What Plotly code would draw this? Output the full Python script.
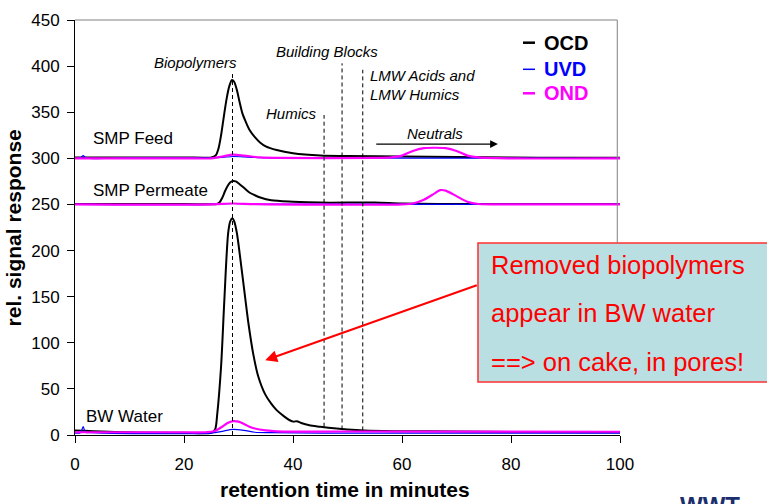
import plotly.graph_objects as go

FONT = "Liberation Sans, Arial, sans-serif"

# ---------------- data ----------------
# SMP Feed (offset baseline ~300)
feed_ocd_x = [0, 10, 20, 25, 25.8, 26.3, 26.8, 27.3, 27.8, 28.3, 28.8, 29.2, 29.7, 30.2, 30.7, 31.3, 32, 33, 34, 35, 37, 40, 45, 50, 60, 70, 80, 90, 100]
feed_ocd_y = [301, 301, 301, 301, 303, 310, 325, 345, 364, 378, 385, 383, 374, 361, 349, 340, 331, 323, 317, 313, 309, 305.5, 303, 302.5, 302, 301.5, 301, 300.5, 300.5]
feed_uvd_x = [0, 1, 1.5, 2, 10, 25, 27, 29, 31, 34, 40, 60, 100]
feed_uvd_y = [300, 300.5, 303, 300.5, 300.5, 300.5, 301, 302, 301.5, 300.8, 300.5, 300.3, 300]
feed_ond_x = [0, 20, 25, 27, 29, 31, 34, 37, 55, 58, 60, 62, 64, 66, 68, 70, 72, 74, 80, 100]
feed_ond_y = [300, 300, 300, 302, 304, 303, 301, 300.5, 300.5, 301, 303, 308, 311, 311.5, 311, 308, 303, 301, 300, 300]

# SMP Permeate (offset baseline ~250)
perm_ocd_x = [0, 20, 26, 26.5, 27, 27.5, 28, 28.5, 29, 29.5, 30, 31, 32, 33, 34, 36, 40, 45, 55, 60, 70, 100]
perm_ocd_y = [250.5, 250.5, 250.5, 252, 257, 264, 270, 274, 275.5, 275, 273, 268, 263, 260, 257.5, 254.5, 253, 252, 252, 251, 250.5, 250.5]
perm_uvd_x = [0, 25, 29, 33, 100]
perm_uvd_y = [250, 250, 251, 250.3, 250]
perm_ond_x = [0, 25, 29, 33, 60, 62, 64, 66, 67, 68, 70, 72, 74, 80, 100]
perm_ond_y = [250, 250, 251, 250.3, 250, 251, 255, 262, 265.5, 265, 259, 253, 250.5, 250, 250]

# BW Water
bw_ocd_x = [0, 10, 20, 25, 25.7, 26.1, 26.8, 27.4, 28.1, 28.5, 28.9, 29.2, 29.7, 30.4, 31.2, 31.8, 32.7, 33.6, 34.9, 36, 37, 38.3, 39.4, 40.1, 40.7, 41.5, 43, 45, 48, 50, 53, 60, 70, 80, 100]
bw_ocd_y = [5, 3, 2.5, 2.5, 6, 23, 74, 146, 219, 232, 235, 232, 219, 188, 150, 122, 88, 64, 44, 34, 27, 20.5, 16, 14.5, 15, 13, 10.5, 9, 7, 6, 5, 4.2, 3.8, 3.3, 3]
bw_uvd_x = [0, 1, 1.5, 1.9, 3, 5, 25, 27, 29, 31, 33, 36, 50, 100]
bw_uvd_y = [2, 2.5, 9, 3, 2.5, 2, 2, 4, 6, 5, 3, 2.5, 2, 2]
bw_ond_x = [0, 20, 24, 25.5, 27, 28, 29, 30, 31, 32, 33, 35, 37, 50, 100]
bw_ond_y = [3, 3, 3, 4, 9, 13, 15, 14.5, 12, 9, 7, 5, 4, 3.8, 3.5]

# fraction boundaries (dashed markers)
frac_x = [28.9, 45.7, 49.0, 52.8]
frac_top = [392, 347, 403, 396]
frac_bottom = [0, 9, 6, 5]

sample_labels = ["SMP Feed", "SMP Permeate", "BW Water"]
sample_label_x = [3.0, 3.0, 1.6]
sample_label_y = [321, 265, 20]

frac_labels = ["Biopolymers", "Building Blocks", "Humics", "LMW Acids and", "LMW Humics", "Neutrals"]

legend_names = ["OCD", "UVD", "OND"]
colors = {"OCD": "#000000", "UVD": "#0000ff", "OND": "#ff00ff"}
widths = {"OCD": 2, "UVD": 1.2, "OND": 2.2}

x_ticks = [0, 20, 40, 60, 80, 100]
y_ticks = [0, 50, 100, 150, 200, 250, 300, 350, 400, 450]

box_lines = ["Removed biopolymers", "appear in BW water", "==> on cake, in pores!"]

# ---------------- figure ----------------
fig = go.Figure()

series = [
    (feed_ocd_x, feed_ocd_y, "OCD"), (feed_uvd_x, feed_uvd_y, "UVD"), (feed_ond_x, feed_ond_y, "OND"),
    (perm_ocd_x, perm_ocd_y, "OCD"), (perm_uvd_x, perm_uvd_y, "UVD"), (perm_ond_x, perm_ond_y, "OND"),
    (bw_ocd_x, bw_ocd_y, "OCD"), (bw_uvd_x, bw_uvd_y, "UVD"), (bw_ond_x, bw_ond_y, "OND"),
]
for xs, ys, kind in series:
    fig.add_trace(go.Scatter(x=xs, y=ys, mode="lines", showlegend=False,
                             line=dict(color=colors[kind], width=widths[kind], shape="spline", smoothing=0.8),
                             hoverinfo="skip"))

for fx, ft, fb in zip(frac_x, frac_top, frac_bottom):
    fig.add_trace(go.Scatter(x=[fx, fx], y=[fb, ft], mode="lines", showlegend=False,
                             line=dict(color="black", width=1, dash="4px,3px"), hoverinfo="skip"))

annotations = []
for t, lx, ly in zip(sample_labels, sample_label_x, sample_label_y):
    annotations.append(dict(x=lx, y=ly, text=t, showarrow=False, xanchor="left", yanchor="middle",
                            font=dict(family=FONT, size=17, color="black")))

frac_pos = [(22.2, 404, "center"), (46.3, 416, "center"), (39.8, 349, "center"),
            (53.8, 390, "left"), (53.8, 369, "left"), (66, 327, "center")]
for t, (px, py, anc) in zip(frac_labels, frac_pos):
    annotations.append(dict(x=px, y=py, text="<i>" + t + "</i>", showarrow=False, xanchor=anc,
                            yanchor="middle", font=dict(family=FONT, size=15, color="black")))

# Neutrals arrow
annotations.append(dict(x=77.6, y=315.5, ax=55, ay=315.5, xref="x", yref="y", axref="x", ayref="y",
                        text="", showarrow=True, arrowhead=2, arrowsize=1.2, arrowwidth=1.3, arrowcolor="black"))

# red arrow from box
annotations.append(dict(x=34.9, y=81, ax=74, ay=163, xref="x", yref="y", axref="x", ayref="y",
                        text="", showarrow=True, arrowhead=2, arrowsize=1.2, arrowwidth=2, arrowcolor="#ff0000"))

# box text
for t, py in zip(box_lines, [0.4096, 0.294, 0.176]):
    annotations.append(dict(x=0.7596, y=py, xref="paper", yref="paper", text=t, showarrow=False,
                            xanchor="left", yanchor="middle", font=dict(family=FONT, size=25.5, color="#ff0000")))

# legend
legend_y = [0.9453, 0.8812, 0.8234]
shapes = []
for name, ly in zip(legend_names, legend_y):
    annotations.append(dict(x=0.8564, y=ly, xref="paper", yref="paper", text="<b>" + name + "</b>",
                            showarrow=False, xanchor="left", yanchor="middle",
                            font=dict(family=FONT, size=20, color=colors[name])))
    shapes.append(dict(type="line", xref="paper", yref="paper", x0=0.822, x1=0.844, y0=ly, y1=ly,
                       line=dict(color=colors[name], width=2.5 if name != "UVD" else 1.5)))

# axis titles
annotations.append(dict(x=0.495, y=-0.1325, xref="paper", yref="paper", text="<b>retention time in minutes</b>",
                        showarrow=False, xanchor="center", yanchor="middle",
                        font=dict(family=FONT, size=21, color="black")))
annotations.append(dict(x=-0.112, y=0.5, xref="paper", yref="paper", text="<b>rel. signal response</b>",
                        showarrow=False, xanchor="center", yanchor="middle", textangle=-90,
                        font=dict(family=FONT, size=21, color="black")))

# logo fragment (cut by the bottom edge, as in the reference)
annotations.append(dict(x=1.107, y=-0.132, xref="paper", yref="paper", text="<b>WWT</b>",
                        showarrow=False, xanchor="left", yanchor="top",
                        font=dict(family=FONT, size=24, color="#1b2f6e")))

# box background and frame
shapes.insert(0, dict(type="rect", xref="paper", yref="paper", x0=0.7394, x1=1.5, y0=0.1277, y1=0.4627,
                      fillcolor="#b9dfe2", line=dict(color="#ff3030", width=1.5), layer="above"))
shapes.append(dict(type="line", xref="paper", yref="paper", x0=0, x1=0.995, y0=1, y1=1,
                   line=dict(color="#808080", width=1)))
shapes.append(dict(type="line", xref="paper", yref="paper", x0=0.995, x1=0.995, y0=0.4627, y1=1,
                   line=dict(color="#808080", width=1)))

fig.update_layout(
    width=767, height=504,
    margin=dict(l=75, r=147, t=20, b=69),
    paper_bgcolor="white", plot_bgcolor="white",
    showlegend=False,
    annotations=annotations, shapes=shapes,
    xaxis=dict(range=[0, 100], tickvals=x_ticks, ticks="outside", ticklen=7, tickcolor="black",
               showline=True, linecolor="black", linewidth=1, showgrid=False, zeroline=False,
               ticklabelstandoff=7,
               tickfont=dict(family=FONT, size=17, color="black")),
    yaxis=dict(range=[0, 450], tickvals=y_ticks, ticks="outside", ticklen=7, tickcolor="black",
               showline=True, linecolor="black", linewidth=1, showgrid=False, zeroline=False,
               ticklabelstandoff=4,
               tickfont=dict(family=FONT, size=17, color="black")),
)

fig.write_html("out.html")
